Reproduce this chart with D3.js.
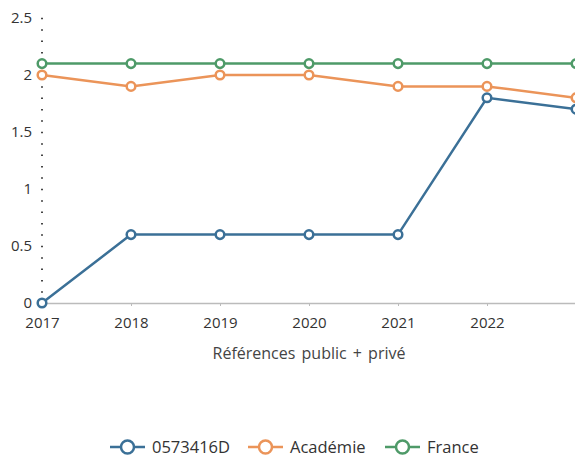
<!DOCTYPE html>
<html><head><meta charset="utf-8">
<script src="https://cdn.jsdelivr.net/npm/d3@7"></script>
<style>body{margin:0;background:#fff}svg{display:block}</style>
</head><body>
<svg id="c" width="575" height="461"></svg>
<script>
const years = ["2017","2018","2019","2020","2021","2022","2023"];
const seriesNames = ["0573416D","Académie","France"];
const etab = [0, 0.6, 0.6, 0.6, 0.6, 1.8, 1.7];
const academie = [2.0, 1.9, 2.0, 2.0, 1.9, 1.9, 1.8];
const france = [2.1, 2.1, 2.1, 2.1, 2.1, 2.1, 2.1];
const colors = ["#3b7097", "#eb9459", "#4e9a68"];
const yTicks = [0, 0.5, 1, 1.5, 2, 2.5];
const xTitle = "Références public + privé";

const svg = d3.select("#c");
const font = "'Open Sans', sans-serif";
const x = d3.scalePoint().domain(years).range([42, 576]);
const y = d3.scaleLinear().domain([0, 2.5]).range([303, 18]);

// y axis dotted minor ticks
const minor = d3.range(1, 26).map(d => d / 10);
svg.append("g").selectAll("line").data(minor).join("line")
  .attr("x1", 41).attr("x2", 43)
  .attr("y1", d => y(d) + 0.5).attr("y2", d => y(d) + 0.5)
  .attr("stroke", "#444").attr("stroke-width", 1.5);
svg.append("g").selectAll("text").data(yTicks).join("text")
  .attr("x", 32).attr("y", d => y(d) + 4.5)
  .attr("text-anchor", "end").attr("font-family", font).attr("font-size", 15)
  .attr("fill", "#333").text(d => d);

// x axis
const xa = svg.append("g").attr("transform", "translate(0,303)")
  .call(d3.axisBottom(x).tickSize(3).tickSizeOuter(0).tickFormat(d => d === "2023" ? "" : d));
xa.select(".domain").attr("stroke", "#bbb").attr("stroke-width", 1.5);
xa.selectAll(".tick line").attr("stroke", "#bbb");
xa.selectAll(".tick text").attr("font-family", font).attr("font-size", 15).attr("fill", "#333")
  .attr("dy", null).attr("y", 25);

svg.append("text").attr("x", 309).attr("y", 359).attr("text-anchor", "middle")
  .attr("font-family", font).attr("font-size", 16).attr("fill", "#444")
  .attr("word-spacing", 2).text(xTitle);

const data = [etab, academie, france];
const line = d3.line().x((d, i) => x(years[i])).y(d => y(d));
[2, 1, 0].forEach(k => {
  const g = svg.append("g");
  g.append("path").datum(data[k]).attr("d", line).attr("fill", "none")
    .attr("stroke", colors[k]).attr("stroke-width", 2.5);
  g.selectAll("circle").data(data[k]).join("circle")
    .attr("cx", (d, i) => x(years[i])).attr("cy", d => y(d)).attr("r", 4.3)
    .attr("fill", "#fff").attr("stroke", colors[k]).attr("stroke-width", 2.5);
});

// legend
const legX = [110, 248, 385];
seriesNames.forEach((n, k) => {
  const g = svg.append("g").attr("transform", `translate(${legX[k]},447)`);
  g.append("line").attr("x1", 0).attr("x2", 35).attr("stroke", colors[k]).attr("stroke-width", 2.5);
  g.append("circle").attr("cx", 17.5).attr("r", 6.5).attr("fill", "#fff").attr("stroke", colors[k]).attr("stroke-width", 2.5);
  g.append("text").attr("x", 42).attr("y", 6).attr("font-family", font).attr("font-size", 16.5)
    .attr("fill", "#333").text(n);
});
</script>
</body></html>
